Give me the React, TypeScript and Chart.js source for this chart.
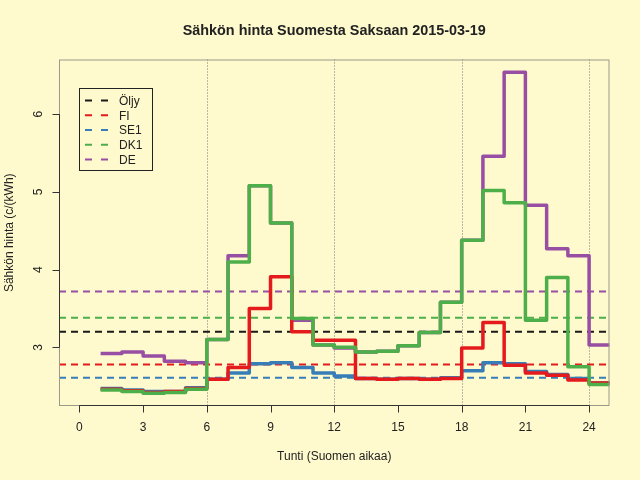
import { useEffect, useRef } from "react";
import { Chart, registerables } from "chart.js";

Chart.register(...registerables);

// hinnat tunneittain (c/kWh), tunti 1..24
const hours = [1, 2, 3, 4, 5, 6, 7, 8, 9, 10, 11, 12, 13, 14, 15, 16, 17, 18, 19, 20, 21, 22, 23, 24];
const fi = [2.46, 2.44, 2.42, 2.43, 2.47, 2.59, 2.74, 3.5, 3.91, 3.2, 3.09, 3.09, 2.6, 2.59, 2.6, 2.59, 2.6, 2.99, 3.32, 2.77, 2.67, 2.64, 2.58, 2.54];
const se1 = [2.47, 2.45, 2.43, 2.43, 2.48, 2.59, 2.67, 2.79, 2.8, 2.74, 2.67, 2.63, 2.6, 2.59, 2.6, 2.59, 2.61, 2.7, 2.8, 2.79, 2.69, 2.65, 2.6, 2.54];
const dk1 = [2.45, 2.43, 2.41, 2.42, 2.46, 3.1, 4.1, 5.08, 4.6, 3.37, 3.03, 3.0, 2.94, 2.95, 3.02, 3.19, 3.58, 4.38, 5.02, 4.86, 3.35, 3.9, 2.75, 2.52];
const de = [2.92, 2.94, 2.89, 2.82, 2.8, 3.1, 4.18, 5.08, 4.6, 3.35, 3.03, 2.99, 2.94, 2.95, 3.02, 3.19, 3.58, 4.38, 5.46, 6.54, 4.83, 4.27, 4.18, 3.03];

// keskiarvot (vaakaviivat)
const legendNames = ["Öljy", "FI", "SE1", "DK1", "DE"];
const levelValues = [3.2, 2.78, 2.61, 3.38, 3.72];
const legendColors = ["#1a1a1a", "#E41A1C", "#377EB8", "#4DAF4A", "#984EA3"];

const xTicks = [0, 3, 6, 9, 12, 15, 18, 21, 24];
const yTicks = [3, 4, 5, 6];
const gridHours = [6, 12, 18, 24];

const TITLE = "Sähkön hinta Suomesta Saksaan 2015-03-19";
const XLABEL = "Tunti (Suomen aikaa)";
const YLABEL = "Sähkön hinta (c/(kWh)";

const BG = "#FFFACD";
const FONT = "'Liberation Sans', Arial, Helvetica, sans-serif";
const TEXT = "#222";

// R-tyylinen 4 % laajennus
function expand(lo: number, hi: number) {
    const d = (hi - lo) * 0.04;
    return [lo - d, hi + d];
}

const [xMin, xMax] = expand(0, 24);
const allVals = [...fi, ...se1, ...dk1, ...de];
const [yMin, yMax] = expand(Math.min(...allVals), Math.max(...allVals));

function stepData(vals: number[]) {
    const pts = hours.map((h, i) => ({ x: h, y: vals[i] }));
    pts.push({ x: hours[hours.length - 1] + 1, y: vals[vals.length - 1] });
    return pts;
}

const decor = {
    id: "decor",
    beforeDraw(chart: any) {
        const { ctx, width, height } = chart;
        ctx.save();
        ctx.fillStyle = BG;
        ctx.fillRect(0, 0, width, height);
        ctx.restore();
    },
    beforeDatasetsDraw(chart: any) {
        const { ctx, chartArea: a, scales } = chart;
        ctx.save();
        ctx.strokeStyle = "#777";
        ctx.lineWidth = 1;
        ctx.setLineDash([1, 2]);
        gridHours.forEach(h => {
            const px = Math.round(scales.x.getPixelForValue(h)) + 0.5;
            ctx.beginPath();
            ctx.moveTo(px, a.top);
            ctx.lineTo(px, a.bottom);
            ctx.stroke();
        });
        ctx.restore();
    },
    afterDatasetsDraw(chart: any) {
        const { ctx, chartArea: a, scales } = chart;
        const x = scales.x;
        const y = scales.y;
        ctx.save();

        // laatikko
        ctx.strokeStyle = "#9a9a8a";
        ctx.lineWidth = 1;
        ctx.strokeRect(a.left + 0.5, a.top + 0.5, a.right - a.left - 1, a.bottom - a.top - 1);

        // akselit
        ctx.strokeStyle = "#333";
        ctx.beginPath();
        const bx = Math.round(a.bottom) - 0.5;
        ctx.moveTo(x.getPixelForValue(xTicks[0]), bx);
        ctx.lineTo(x.getPixelForValue(xTicks[xTicks.length - 1]), bx);
        xTicks.forEach(t => {
            const px = Math.round(x.getPixelForValue(t)) + 0.5;
            ctx.moveTo(px, bx);
            ctx.lineTo(px, bx + 7);
        });
        const lx = Math.round(a.left) + 0.5;
        ctx.moveTo(lx, y.getPixelForValue(yTicks[0]));
        ctx.lineTo(lx, y.getPixelForValue(yTicks[yTicks.length - 1]));
        yTicks.forEach(t => {
            const py = Math.round(y.getPixelForValue(t)) + 0.5;
            ctx.moveTo(lx, py);
            ctx.lineTo(lx - 7, py);
        });
        ctx.stroke();

        ctx.fillStyle = TEXT;
        ctx.font = `12px ${FONT}`;
        ctx.textAlign = "center";
        ctx.textBaseline = "middle";
        xTicks.forEach(t => {
            ctx.fillText(String(t), x.getPixelForValue(t), 428);
        });
        yTicks.forEach(t => {
            ctx.save();
            ctx.translate(39, y.getPixelForValue(t));
            ctx.rotate(-Math.PI / 2);
            ctx.fillText(String(t), 0, 0);
            ctx.restore();
        });

        // otsikot
        const cx = (a.left + a.right) / 2;
        const cy = (a.top + a.bottom) / 2;
        ctx.fillText(XLABEL, cx, 457);
        ctx.save();
        ctx.translate(10, cy);
        ctx.rotate(-Math.PI / 2);
        ctx.fillText(YLABEL, 0, 0);
        ctx.restore();
        ctx.font = `bold 14.4px ${FONT}`;
        ctx.fillText(TITLE, cx, 31);

        // selite
        ctx.fillStyle = BG;
        ctx.fillRect(79, 88, 74, 83);
        ctx.strokeStyle = "#222";
        ctx.lineWidth = 1;
        ctx.strokeRect(79.5, 88.5, 73, 82);
        ctx.font = `12px ${FONT}`;
        ctx.textAlign = "left";
        legendNames.forEach((name, i) => {
            const ry = 100.5 + i * 14.75;
            ctx.strokeStyle = legendColors[i];
            ctx.lineWidth = 2;
            ctx.setLineDash([7, 9]);
            ctx.beginPath();
            ctx.moveTo(85, ry);
            ctx.lineTo(108, ry);
            ctx.stroke();
            ctx.setLineDash([]);
            ctx.fillStyle = TEXT;
            ctx.fillText(name, 119, ry + 1);
        });
        ctx.restore();
    },
};

export default function App() {
    const canvasRef = useRef<HTMLCanvasElement | null>(null);
    const chartInstance = useRef<Chart | null>(null);

    useEffect(() => {
        document.body.style.margin = "0";

        const stepSets = [
            { label: "DK1", data: dk1, color: legendColors[3], order: 0 },
            { label: "FI", data: fi, color: legendColors[1], order: 1 },
            { label: "SE1", data: se1, color: legendColors[2], order: 2 },
            { label: "DE", data: de, color: legendColors[4], order: 3 },
        ].map(s => ({
            label: s.label,
            data: stepData(s.data),
            borderColor: s.color,
            backgroundColor: s.color,
            borderWidth: 3.5,
            stepped: "before" as const,
            pointRadius: 0,
            fill: false,
            clip: 0,
            order: s.order,
            borderJoinStyle: "round" as const,
        }));

        const levelSets = legendNames.map((name, i) => ({
            label: name + " ka",
            data: [{ x: xMin, y: levelValues[i] }, { x: xMax, y: levelValues[i] }],
            borderColor: legendColors[i],
            backgroundColor: legendColors[i],
            borderWidth: 2,
            borderDash: [7, 5],
            pointRadius: 0,
            fill: false,
            clip: 0,
            order: 10 + i,
        }));

        if (chartInstance.current) {
            chartInstance.current.destroy();
        }

        if (canvasRef.current) {
            const ctx = canvasRef.current.getContext("2d");
            if (ctx) {
                chartInstance.current = new Chart(ctx, {
                    type: "line",
                    data: { datasets: [...stepSets, ...levelSets] as any },
                    options: {
                        responsive: false,
                        animation: false,
                        events: [],
                        layout: { padding: { left: 59, top: 59.5, right: 30.5, bottom: 74 } },
                        plugins: {
                            legend: { display: false },
                            title: { display: false },
                            tooltip: { enabled: false },
                        },
                        scales: {
                            x: { type: "linear", min: xMin, max: xMax, display: false },
                            y: { type: "linear", min: yMin, max: yMax, display: false },
                        },
                    },
                    plugins: [decor],
                });
            }
        }

        return () => {
            if (chartInstance.current) {
                chartInstance.current.destroy();
                chartInstance.current = null;
            }
        };
    }, []);

    return <canvas ref={canvasRef} width={640} height={480} style={{ display: "block" }} />;
}
